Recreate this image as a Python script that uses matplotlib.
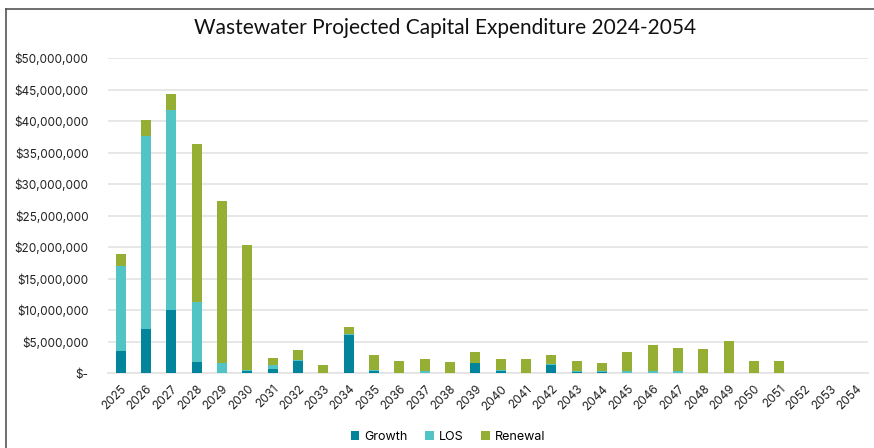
import matplotlib.pyplot as plt
import numpy as np
from matplotlib.lines import Line2D
from matplotlib.ticker import FuncFormatter

years = [str(y) for y in range(2025, 2055)]

# values in $ millions
growth = [3.6, 7.1, 10.0, 1.85, 0.0, 0.4, 0.7, 2.0, 0.0, 6.1,
          0.42, 0.0, 0.0, 0.0, 1.6, 0.3, 0.0, 1.27, 0.25, 0.25,
          0.0, 0.0, 0.0, 0.0, 0.0, 0.0, 0.0, 0.0, 0.0, 0.0]
los = [13.5, 30.6, 31.8, 9.45, 1.6, 0.05, 0.55, 0.1, 0.0, 0.1,
       0.16, 0.0, 0.3, 0.0, 0.1, 0.28, 0.0, 0.2, 0.1, 0.1,
       0.3, 0.3, 0.35, 0.0, 0.0, 0.0, 0.0, 0.0, 0.0, 0.0]
renewal = [1.8, 2.5, 2.6, 25.1, 25.8, 19.95, 1.2, 1.6, 1.3, 1.1,
           2.28, 1.9, 1.9, 1.8, 1.7, 1.7, 2.27, 1.5, 1.6, 1.35,
           3.13, 4.2, 3.6, 3.86, 5.08, 2.0, 2.0, 0.0, 0.0, 0.0]

c_growth = '#02849A'
c_los = '#52C4C6'
c_renewal = '#95AE34'

plt.rcParams['font.family'] = ['Inter', 'DejaVu Sans']

fig = plt.figure(figsize=(8.74, 4.48), dpi=100)
ax = fig.add_axes([108/874, 1 - 373.3/448, 760/874, 315/448])

x = np.arange(len(years))
g = np.array(growth) * 1e6
l = np.array(los) * 1e6
r = np.array(renewal) * 1e6
w = 0.4
ax.bar(x, g, w, color=c_growth, label='Growth', zorder=3)
ax.bar(x, l, w, bottom=g, color=c_los, label='LOS', zorder=3)
ax.bar(x, r, w, bottom=g + l, color=c_renewal, label='Renewal', zorder=3)

ax.set_xlim(-0.5, len(years) - 0.5)
ax.set_ylim(0, 50e6)
ax.set_yticks(np.arange(0, 50e6 + 1, 5e6))
ax.yaxis.set_major_formatter(FuncFormatter(lambda v, p: '$-' if v == 0 else f'${v:,.0f}'))
ax.set_xticks(x)
ax.set_xticklabels(years, rotation=45, ha='right', rotation_mode='anchor')
ax.tick_params(axis='both', length=0, labelsize=8.5, colors='#222222')
ax.tick_params(axis='y', pad=14)
ax.tick_params(axis='x', pad=7)
ax.grid(axis='y', color='#e3e3e3', linewidth=1.2, zorder=0)
for s in ['top', 'right', 'left']:
    ax.spines[s].set_visible(False)
ax.spines['bottom'].set_color('#e3e3e3')
ax.spines['bottom'].set_linewidth(1.2)

fig.text(445/874, 1 - 28/448, 'Wastewater Projected Capital Expenditure 2024-2054',
         ha='center', va='center', fontsize=15, family=['Lato', 'DejaVu Sans'],
         color='#111111')

fig.legend(loc='center', bbox_to_anchor=(448/874, 1 - 437/448), ncol=3,
           frameon=False, fontsize=9, handlelength=0.7, handleheight=0.7,
           handletextpad=0.4, columnspacing=1.4)

# chart border (left and top edges visible)
fig.add_artist(Line2D([6/874, 6/874], [0, 1 - 9/448], transform=fig.transFigure,
                      color='#555555', linewidth=1.2))
fig.add_artist(Line2D([6/874, 1], [1 - 9/448, 1 - 9/448], transform=fig.transFigure,
                      color='#555555', linewidth=1.2))

fig.savefig('out.png', dpi=100)
